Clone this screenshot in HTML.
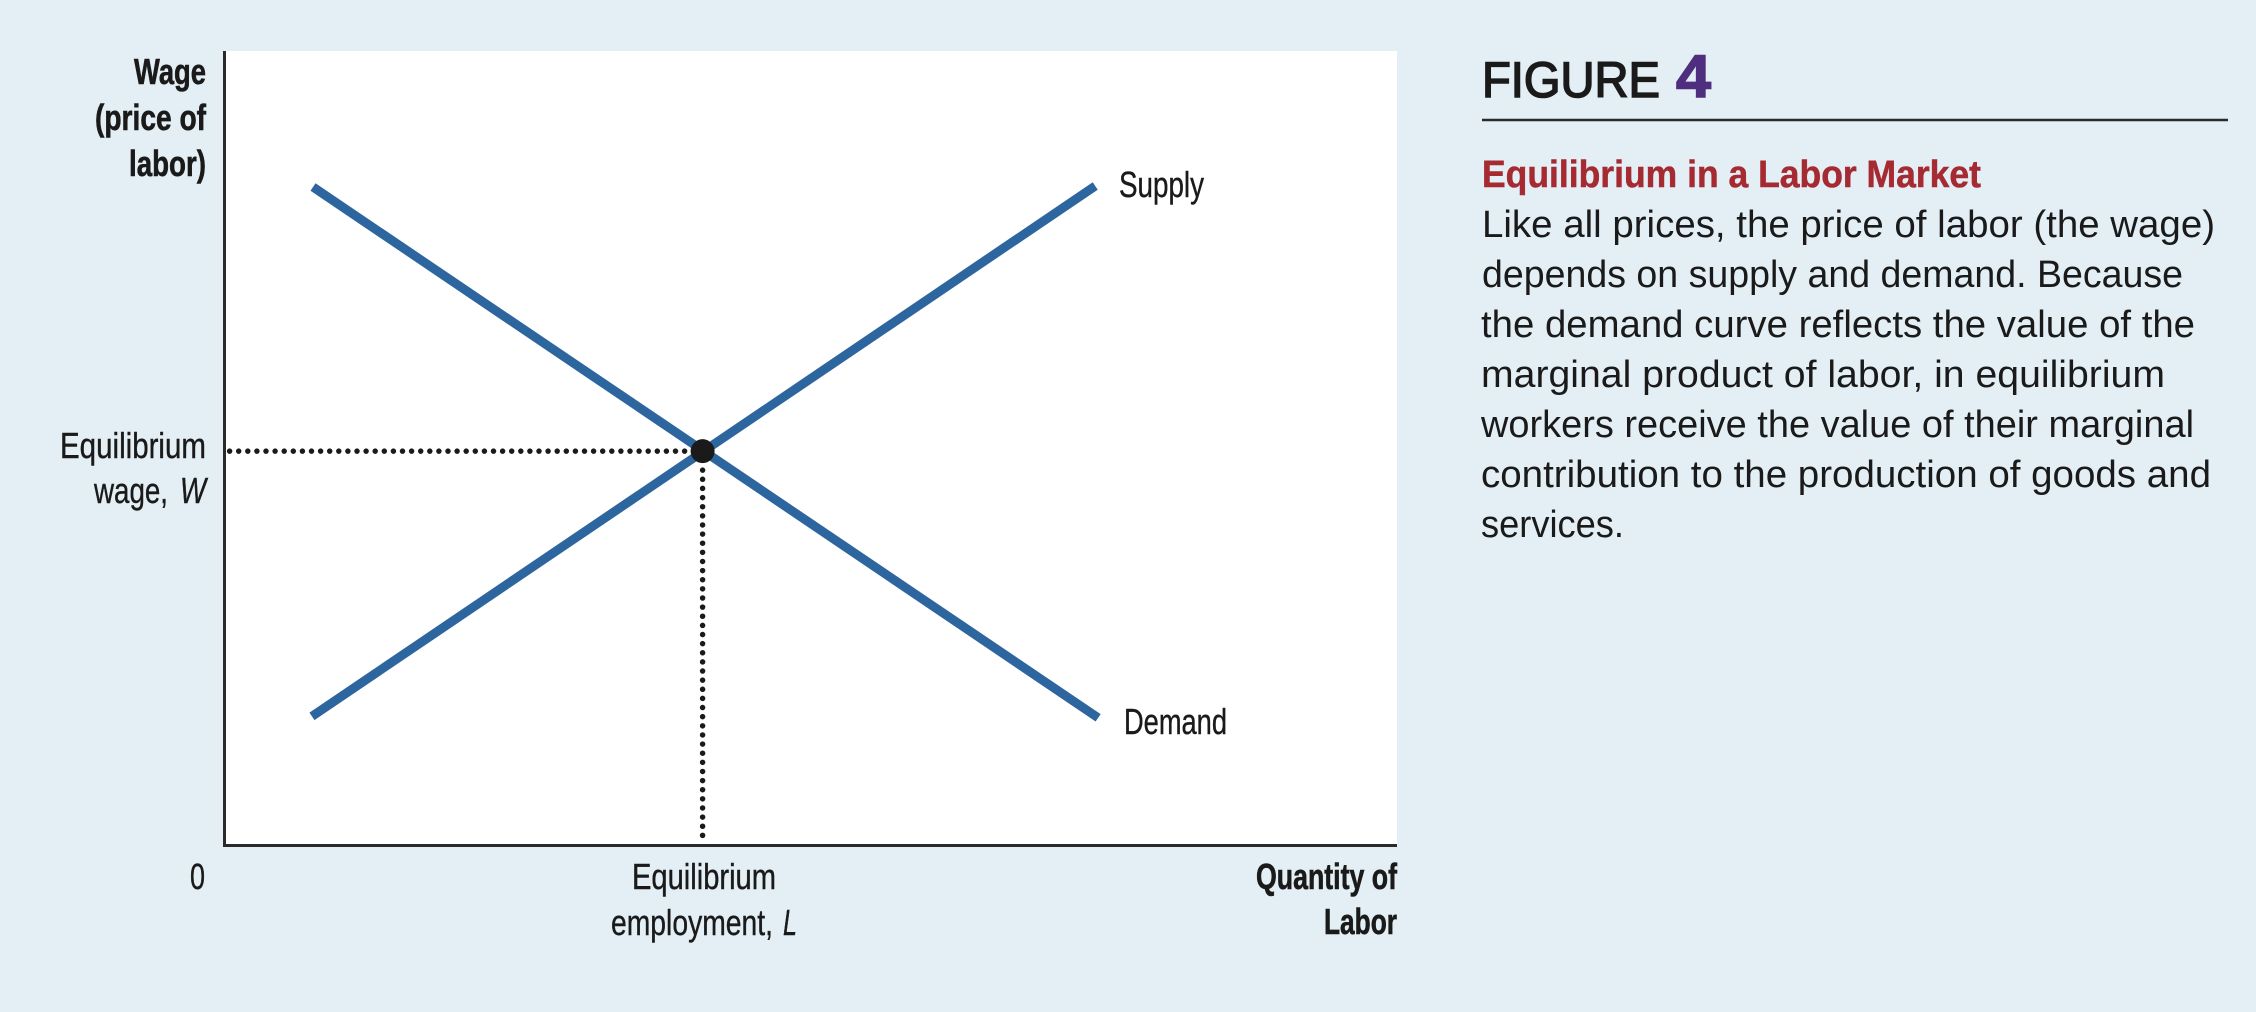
<!DOCTYPE html>
<html lang="en">
<head>
<meta charset="utf-8">
<title>Figure 4: Equilibrium in a Labor Market</title>
<style>
  html, body { margin: 0; padding: 0; background: #e3eff4; }
  body { width: 2256px; height: 1012px; overflow: hidden; }
  svg { display: block; }
  text { font-family: "Liberation Sans Narrow", "Liberation Sans", sans-serif; fill: #1a1a1a; }
  .wide { font-family: "Liberation Sans", sans-serif; }
  .lab { font-size: 36px; stroke: #1a1a1a; stroke-width: 0.4px; }
  .b { font-weight: 700; }
  .body { font-family: "Liberation Sans", sans-serif; font-size: 38px; }
</style>
</head>
<body>
<svg id="chart" width="2256" height="1012" viewBox="0 0 2256 1012" xmlns="http://www.w3.org/2000/svg">
  <rect x="0" y="0" width="2256" height="1012" fill="#e3eff4"/>
  <rect x="224" y="51" width="1173" height="795" fill="#ffffff"/>
  <g id="marks"></g>
  <line x1="224.5" y1="51" x2="224.5" y2="847" stroke="#2a2a2a" stroke-width="3"/>
  <line x1="223" y1="845.5" x2="1397" y2="845.5" stroke="#2a2a2a" stroke-width="3"/>

  <text class="lab b" x="134" y="84" textLength="72" lengthAdjust="spacingAndGlyphs" style="stroke-width:0.6px">Wage</text>
  <text class="lab b" x="95" y="130" textLength="111" lengthAdjust="spacingAndGlyphs" style="stroke-width:0.6px">(price of</text>
  <text class="lab b" x="129" y="176" textLength="77" lengthAdjust="spacingAndGlyphs" style="stroke-width:0.6px">labor)</text>

  <text class="lab" x="60" y="458" textLength="146" lengthAdjust="spacingAndGlyphs">Equilibrium</text>
  <text class="lab" x="94" y="503" textLength="74" lengthAdjust="spacingAndGlyphs">wage,</text>
  <text class="lab" font-style="italic" x="180" y="503" textLength="26" lengthAdjust="spacingAndGlyphs">W</text>

  <text class="lab" x="190" y="889" textLength="15" lengthAdjust="spacingAndGlyphs">0</text>
  <text class="lab" x="632" y="889" textLength="144" lengthAdjust="spacingAndGlyphs">Equilibrium</text>
  <text class="lab" x="611" y="935" textLength="162" lengthAdjust="spacingAndGlyphs">employment,</text>
  <text class="lab" font-style="italic" x="783" y="935" textLength="14" lengthAdjust="spacingAndGlyphs">L</text>

  <text class="lab b" x="1256" y="889" textLength="141" lengthAdjust="spacingAndGlyphs" style="stroke-width:0.6px">Quantity of</text>
  <text class="lab b" x="1324" y="934" textLength="73" lengthAdjust="spacingAndGlyphs" style="stroke-width:0.6px">Labor</text>

  <text class="lab" x="1119" y="197" textLength="85" lengthAdjust="spacingAndGlyphs">Supply</text>
  <text class="lab" x="1124" y="734" textLength="103" lengthAdjust="spacingAndGlyphs">Demand</text>

  <text class="wide" font-size="50" x="1482" y="97" textLength="178" lengthAdjust="spacingAndGlyphs" stroke="#1a1a1a" stroke-width="1.6">FIGURE</text>
  <text class="wide b" font-size="60" x="1676" y="97" textLength="35" lengthAdjust="spacingAndGlyphs" stroke="#4f2d7f" stroke-width="1.5" style="fill:#4f2d7f">4</text>
  <line x1="1482" y1="120" x2="2228" y2="120" stroke="#2a2a2a" stroke-width="2.5"/>

  <text class="b" font-size="38" x="1482" y="187" textLength="499" lengthAdjust="spacingAndGlyphs" stroke="#a52a32" stroke-width="0.5" style="fill:#a52a32">Equilibrium in a Labor Market</text>

  <text class="body" x="1482" y="237" textLength="733" lengthAdjust="spacingAndGlyphs">Like all prices, the price of labor (the wage)</text>
  <text class="body" x="1482" y="287" textLength="701" lengthAdjust="spacingAndGlyphs">depends on supply and demand. Because</text>
  <text class="body" x="1481" y="337" textLength="714" lengthAdjust="spacingAndGlyphs">the demand curve reflects the value of the</text>
  <text class="body" x="1481" y="387" textLength="684" lengthAdjust="spacingAndGlyphs">marginal product of labor, in equilibrium</text>
  <text class="body" x="1481" y="437" textLength="713" lengthAdjust="spacingAndGlyphs">workers receive the value of their marginal</text>
  <text class="body" x="1481" y="487" textLength="730" lengthAdjust="spacingAndGlyphs">contribution to the production of goods and</text>
  <text class="body" x="1481" y="537" textLength="143" lengthAdjust="spacingAndGlyphs">services.</text>
</svg>
<script>
// Values on a 0-100 scale for both axes (the original chart has no numeric ticks).
var supplyQuantity = [7.34, 74.23];
var supplyWage = [16.2, 83.0];
var demandQuantity = [7.43, 74.48];
var demandWage = [82.87, 16.02];
var equilibriumQuantity = [40.7];
var equilibriumWage = [49.6];

function xScale(v) { return 226 + v * 11.71; }
function yScale(v) { return 845 - v * 7.94; }

var svgNS = 'http://www.w3.org/2000/svg';
var marks = document.getElementById('marks');

function makeLine(x1, y1, x2, y2, stroke, width, dash, cap) {
  var l = document.createElementNS(svgNS, 'line');
  l.setAttribute('x1', x1);
  l.setAttribute('y1', y1);
  l.setAttribute('x2', x2);
  l.setAttribute('y2', y2);
  l.setAttribute('stroke', stroke);
  l.setAttribute('stroke-width', width);
  if (dash) { l.setAttribute('stroke-dasharray', dash); }
  if (cap) { l.setAttribute('stroke-linecap', cap); }
  marks.appendChild(l);
  return l;
}

var ex = xScale(equilibriumQuantity[0]);
var ey = yScale(equilibriumWage[0]);

var wageGuide = makeLine(229.6, ey, ex - 17, ey, '#1a1a1a', 5.5, '0 9.1', 'round');



var employmentGuide = makeLine(ex, ey + 19, ex, yScale(0) - 8, '#1a1a1a', 5.5, '0 9.13', 'round');



var demandLine = makeLine(xScale(demandQuantity[0]), yScale(demandWage[0]), xScale(demandQuantity[1]), yScale(demandWage[1]), '#2d669f', 9);



var supplyLine = makeLine(xScale(supplyQuantity[0]), yScale(supplyWage[0]), xScale(supplyQuantity[1]), yScale(supplyWage[1]), '#2d669f', 9);



var dot = document.createElementNS(svgNS, 'circle');
dot.setAttribute('cx', ex);
dot.setAttribute('cy', ey);
dot.setAttribute('r', 12);
dot.setAttribute('fill', '#1a1a1a');


marks.appendChild(dot);
</script>
</body>
</html>
